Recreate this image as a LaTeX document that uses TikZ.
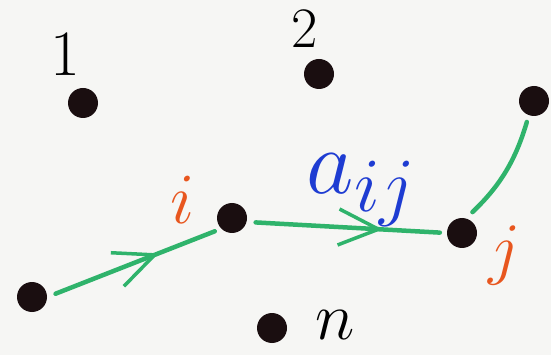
\documentclass[tikz,border=0pt]{standalone}
\usepackage{xcolor}
\usepackage{tikz}
\usetikzlibrary{arrows.meta, decorations.markings}
\definecolor{paperBg}{HTML}{F6F6F4}
\definecolor{penGreen}{HTML}{2FB36B}
\definecolor{penOrange}{HTML}{E8561E}
\definecolor{penBlue}{HTML}{1E3CD2}
\definecolor{penBlack}{HTML}{1A0E10}

\begin{document}
\begin{tikzpicture}[
        x=1pt, y=-1pt,
        vertex/.style={circle, fill=penBlack, minimum size=30pt, inner sep=0pt},
        vlabel/.style={inner sep=0pt, font=\Huge, scale=#1, transform shape},
        vlabel/.default=2.4,
        edge/.style={draw=penGreen, line width=4.5pt, line cap=round, shorten <=9pt, shorten >=7pt},
        midarrow/.style={postaction={decorate, decoration={markings,
            mark=at position #1 with {\arrow[penGreen, line width=3.5pt]{Straight Barb[length=40pt, width=36pt]}}}}}
    ]
        % Paper
        \fill[paperBg] (0,0) rectangle (551,355);
        \useasboundingbox (0,0) rectangle (551,355);

        % Nodes
        \node[vertex, at={(83,103)}] (v1) {};
        \node[vertex, at={(319,74)}] (v2) {};
        \node[vertex, at={(534,101)}] (v3) {};
        \node[vertex, at={(232,218)}] (i) {};
        \node[vertex, at={(462,233)}] (j) {};
        \node[vertex, at={(32,297)}] (v0) {};
        \node[vertex, at={(272,328)}] (n) {};

        % Labels
        \node[vlabel=2.6, at={(65,54)}] (l1) {1};
        \node[vlabel=2.3, at={(305,29)}] (l2) {2};
        \node[vlabel=2.9, text=penOrange, at={(183,200)}] (li) {$i$};
        \node[vlabel=2.8, text=penOrange, at={(505,255)}] (lj) {$j$};
        \node[vlabel=2.7, at={(335,325)}] (ln) {$n$};
        \node[vlabel=3.7, text=penBlue, at={(362,190)}] (aij) {$a_{ij}$};

        % Edges
        \draw[edge, midarrow=0.64] (v0.east) -- (i.south west);
        \draw[edge, midarrow=0.68] (i.-15) -- (j.west);
        \draw[edge] (j.75) to[bend right=15] (v3.250);
    \end{tikzpicture}
\end{document}
